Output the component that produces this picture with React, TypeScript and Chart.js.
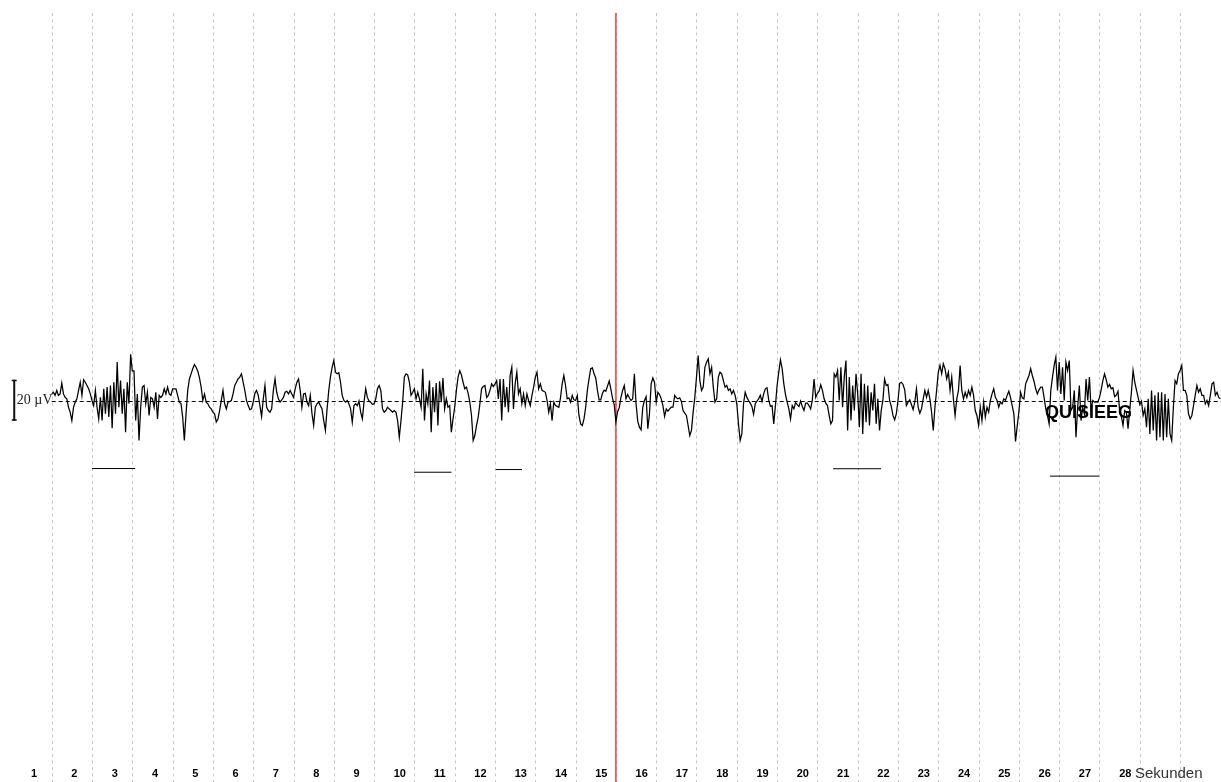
import React, { useEffect, useRef } from "react";
import { Chart, registerables } from "chart.js";

Chart.register(...registerables);

// EEG channel sampled at 24 Hz, starting at second 1 (values in µV)
const SAMPLE_RATE_HZ = 24;
const TRACE_START_S = 1;
const eegMicrovolts = [
  3.7, 4.5, 3, 5.4, 3, 3.7, 9, 3.7, 2, 1.3, -2.8, -5.2, -9.3, -2.8, -0.3, 1.3, 5.4, 9.4, 3, 10.6, 9.4, 7.8, 6.2, 3.7,
  0.5, -2, 5.4, -2.8, -8.5, 2, -9.3, 6.2, -6, 7, -7.6, 7.8, -13, 9.4, -6, 19.2, -2.8, 10.2, -6, 6.2, -15, 9.4, -1.1, 23,
  15, 15, -9.3, 3.7, -19, -2.8, 7, 7.8, -1.1, 4.5, -6.8, 2, 1.3, -2.8, 4.5, -8.5, 3, 2, 3, 6.2, 3.7, 7, 3.7, 3,
  6.2, 6.2, 6.2, 3, -0.3, -1, -7.6, -19, -6, 5.4, 11, 13.5, 16, 18, 16.7, 14.8, 11.5, 7, 0.5, 3.7, -0.3, -1.1, -2.8, -3.6,
  -5.2, -6, -10, -8.5, -4.4, 0.5, 5.4, -1.1, -3.6, -0.3, 0, 0.5, 3.7, 7.8, 9.4, 11, 11.9, 13.5, 9.4, 5.4, 0.5, -2, -4, -3.6,
  -0.3, 4, 5.4, 3, -2, -7.3, 1.3, 7.8, -2.8, -4.4, -5.2, -3.6, 5.4, 11, 4.5, 1.3, -0.3, 0.8, 2, 4.5, 5, 3.7, 5.4, 3.7,
  2, 6.2, 9.4, 11, 5.4, -2.8, 3.7, 4, -0.3, -2, 3, -6, -11.7, -2.8, -1.1, -0.3, -2, -3.6, -9.3, -14.1, -3.6, 5.4, 11.9, 16.7,
  20, 14.3, 13.5, 14, 9.4, 3, 0.5, -0.3, 0.5, -1.1, -3.6, -10.1, -2, -1.1, -2, 0.2, -5.2, -8.5, -0.3, 6.2, 2, 0.2, -0.3, -1.5,
  -1.1, 1.3, 6.2, 7.8, 5.4, -3.6, -5.2, -4.4, -2.8, -3.6, -4.4, -5.2, -4.4, -5.2, -9.3, -17.4, -9.3, -0.3, 11.9, 13.5, 13, 9.4, 3, 4.5,
  6.2, 1.3, 4.5, 1.3, -2.8, 16, -9.3, 3.7, -1.1, 10.2, -15, 7, -5.2, 9, -11.7, 9.9, -0.3, 11.5, -3.6, 1.3, -2.8, -2, -15, -8.5,
  -2.8, 5.4, 11.9, 15, 13, 9.4, 6.2, 7, 4, -0.3, -6.8, -19, -16.6, -11.7, -7.6, -1.1, 6.2, 7.3, 7.8, 2, 3, 5.4, 8.6, 7.3,
  8.6, 10.2, 1.3, 11, -9.3, 11, -2.8, 7, -5.2, 12.7, 16.7, -3.6, 8.6, 14.3, 3.7, 6.2, -1.1, 3.7, -2, 3.7, 0.5, -2, 3, 7,
  11.9, 14.3, 6.2, 8.6, 5.4, 5, 4.5, 0.5, -5.2, -1.1, -9.3, -0.3, -2, -2.4, -2.8, 1.8, 8.6, 12.7, 7.8, 1.3, 1.8, -0.3, 3, 0.8,
  0.5, 3, -6.8, -10.9, -11.7, -8.5, -2.8, 5.4, 11, 16, 16.4, 13.5, 11.5, 5.4, 0.8, 0.8, 4, 5.5, 5, 7.5, 10, 6, 1.5, -1.5,
  -10, -5, -3, 2, 5.4, 7.8, 1.3, 3.4, 1.8, 0.5, 1.3, 13.5, -1.1, -9.6, -12.5, -13.8, -2.8, 0.5, 2.4, -13.3, -6, 8.6, 11.5, 9.4,
  -0.3, 4.5, 3.4, 1.3, -2, -7.3, -3.6, -4.7, -3.6, -2.8, -2.8, 3, 1.8, 1.3, 1.8, 0, -4.4, -5.7, -6.8, -11.7, -16.6, -14.1, -5.2, 2,
  11.9, 22.4, 10.2, 5.4, 7, 16.7, 19.2, 20.8, 13.5, 16.7, 7, -0.3, 1.3, 11.9, 14.3, 13.5, 10.2, 7, 7.8, 5.4, 6.2, 3.7, 5.4, 3,
  -1.1, -10.9, -19, -15.8, -1.1, 4.5, 2, 0.5, -0.8, -2.4, -6.3, -1.1, 0.2, 1.3, 3, 0, 3.7, 6.2, 6.7, 0.8, -2.4, -2, -10.9, -2,
  7.8, 14.3, 20.3, 16, 8.6, 3.4, -0.3, -3.6, -8.5, -2, -3.6, -0.5, -1.5, -2.4, 0.2, -2.4, -4.4, -0.8, -0.8, -2, -3.6, 0.8, 11, 2,
  4, 5, 8.1, 5.4, 1.3, -0.8, -2, -6.8, -10.9, -9.3, 13.5, 11.9, 15.1, 0.5, 16.7, -2.8, 11.9, 20, -14.1, 11.9, -9.3, 7.8, -4.4, 13.5,
  3.7, -12.5, 13.5, -15.8, 8.6, -10.1, 7.8, -11.7, 4.5, -4.4, 8.6, -10.9, 1.3, -14.1, -4.4, 0.5, 11, 7.8, 8.3, 0.5, -2.4, -6.8, -8.9, -6,
  0.5, 8.9, 9.4, 8.3, 5.7, -2, -0.3, 0.8, -1.5, -4, -0.3, 6.2, -2.8, -5.7, -3.6, 1.3, 5.4, 2, 5.4, 1.3, -5.2, -14.1, -2.8, 5.4,
  14.3, 17.6, 13.5, 18.4, 16, 11, 14.3, 5.4, 11.9, 1.3, -6.8, 1.3, 5.4, 17.6, 5.4, 1.3, 4.5, 2, 5.4, 3, 7, 3, -4.4, -6.8,
  -11.7, -2.8, -9.3, -0.3, -7.6, -2.8, -5.2, 0.5, 3.7, 6.2, 2, 0.5, -2.8, -0.3, -1.1, 1.3, 0.5, 3, 5, 2, -2, -6, -19.5, -12,
  -5, 4.5, 1.8, 1.3, 8.6, 10.6, 12.7, 16, 12.7, 9.9, 6.2, 3.7, 5.7, 7, 7, 2, -3.6, -6.8, -10.9, 5.4, 11.9, 17.6, 21.6, 5.4,
  19.2, 3.7, 16.7, 0.5, 19.2, 15.1, 20, -4.4, -2.8, 5.4, -17.4, -2.8, 7.8, -9.3, -2.8, -6, 11, 0.5, 11.9, -4.4, 0.5, -0.3, -0.3, -0.3,
  2, 5.7, 10.2, 13.5, 10.6, 7, 8.3, 6.2, 6.7, 2.4, 3, 5, -4.4, -7.3, -11.7, -4.4, -5.2, -13.3, -4.4, 4.5, 15.1, 9.4, 5.7, 2,
  -1.5, 0.2, -6.8, -3.6, -12.5, 1.3, -15.8, 5.4, -14.1, 3, -19, 4.5, -17.4, 4.5, -19, 3.7, -17.4, 1.3, -15.8, -19, -2.8, 10.2, 8.6, 13.5,
  15.1, 17.6, 5.4, 5.4, 3, -6, -8.5, -6.8, -2, 3, 7.8, 4.5, 6.2, 3, 3, -1.1, 0.5, -2, 3, 8.6, 9.4, 3, 4.5, 2,
  1.3,
];

// Second boundaries (dashed grid) and the per-second labels underneath
const gridSeconds = [1, 2, 3, 4, 5, 6, 7, 8, 9, 10, 11, 12, 13, 14, 15, 16, 17, 18, 19, 20, 21, 22, 23, 24, 25, 26, 27, 28, 29];
const secondLabels = ["1", "2", "3", "4", "5", "6", "7", "8", "9", "10", "11", "12", "13", "14", "15", "16", "17", "18", "19", "20", "21", "22", "23", "24", "25", "26", "27", "28"];
const unitLabel = "Sekunden";

// Cursor position (s)
const cursorSecond = 15;

// Marked events: start / end (s) and the level (µV) at which the bar is drawn
const eventStarts = [2.0, 9.99, 12.02, 20.39, 25.77];
const eventEnds = [3.07, 10.92, 12.67, 21.58, 26.99];
const eventLevels = [-32.7, -34.5, -33.2, -32.8, -36.4];

// Amplitude calibration bar
const scaleBarMicrovolts = 20;
const scaleBarLabel = "20 µV";
const channelName = "QUISIEEG";

// Visible window
const X_MIN = -0.283;
const X_MAX = 30.015;
const PX_PER_UV = 2.05;
const Y_MAX = 401.5 / PX_PER_UV;
const Y_MIN = -(782 - 401.5) / PX_PER_UV;

const eegDecor = {
  id: "eegDecor",
  beforeDatasetsDraw(chart: any) {
    const { ctx, chartArea } = chart;
    const x = chart.scales.x;
    ctx.save();
    // dashed second grid
    ctx.strokeStyle = "#c6c6c6";
    ctx.lineWidth = 1;
    ctx.setLineDash([3, 3.5]);
    for (const s of gridSeconds) {
      const px = Math.round(x.getPixelForValue(s)) + 0.5;
      ctx.beginPath();
      ctx.moveTo(px, chartArea.top + 13);
      ctx.lineTo(px, chartArea.bottom);
      ctx.stroke();
    }
    // red cursor line
    ctx.setLineDash([]);
    ctx.strokeStyle = "rgb(255,70,70)";
    ctx.lineWidth = 1.6;
    const cx = x.getPixelForValue(cursorSecond);
    ctx.beginPath();
    ctx.moveTo(cx, chartArea.top + 13);
    ctx.lineTo(cx, chartArea.bottom);
    ctx.stroke();
    ctx.restore();
  },
  afterDatasetsDraw(chart: any) {
    const { ctx, chartArea } = chart;
    const x = chart.scales.x;
    const y = chart.scales.y;
    ctx.save();

    // second labels along the bottom
    ctx.fillStyle = "#000";
    ctx.font = "bold 11px 'Liberation Sans', Arial, sans-serif";
    ctx.textAlign = "left";
    ctx.textBaseline = "alphabetic";
    secondLabels.forEach((lab, k) => {
      const px = x.getPixelForValue(k + 0.5) - 0.5;
      ctx.fillText(lab, px, chartArea.bottom - 5);
    });
    ctx.fillStyle = "#333";
    ctx.font = "15px 'Liberation Sans', Arial, sans-serif";
    ctx.fillText(unitLabel, x.getPixelForValue(27.88), chartArea.bottom - 4);

    // calibration bar
    const bx = x.getPixelForValue(0.07);
    const top = y.getPixelForValue(scaleBarMicrovolts / 2 + 0.6);
    const bot = y.getPixelForValue(-scaleBarMicrovolts / 2 + 0.6);
    ctx.strokeStyle = "#111";
    ctx.lineWidth = 2;
    ctx.beginPath();
    ctx.moveTo(bx, top);
    ctx.lineTo(bx, bot);
    ctx.stroke();
    ctx.lineWidth = 1.5;
    ctx.beginPath();
    ctx.moveTo(bx - 2.5, top + 0.75);
    ctx.lineTo(bx + 2.5, top + 0.75);
    ctx.moveTo(bx - 2.5, bot - 0.75);
    ctx.lineTo(bx + 2.5, bot - 0.75);
    ctx.stroke();

    ctx.fillStyle = "#222";
    ctx.font = "14px 'Liberation Serif', 'Times New Roman', serif";
    ctx.fillText(scaleBarLabel, x.getPixelForValue(0.135), y.getPixelForValue(0) + 2);

    // channel name
    ctx.fillStyle = "#000";
    ctx.font = "bold 18px 'Liberation Sans', Arial, sans-serif";
    ctx.fillText(channelName, x.getPixelForValue(25.65), y.getPixelForValue(0) + 16);
    ctx.restore();
  },
};

export default function App() {
  const ref = useRef<HTMLCanvasElement>(null);

  useEffect(() => {
    const canvas = ref.current;
    if (!canvas) return;
    const trace = eegMicrovolts.map((v, i) => ({ x: TRACE_START_S + i / SAMPLE_RATE_HZ, y: v }));
    const lastSecond = TRACE_START_S + (eegMicrovolts.length - 1) / SAMPLE_RATE_HZ;

    const datasets: any[] = [
      {
        label: "Nulllinie",
        data: [
          { x: TRACE_START_S, y: 0 },
          { x: lastSecond + 0.05, y: 0 },
        ],
        borderColor: "#000",
        borderWidth: 1,
        borderDash: [4, 3],
      },
      {
        label: channelName,
        data: trace,
        borderColor: "#000",
        borderWidth: 1.25,
      },
      ...eventStarts.map((s, k) => ({
        label: `Ereignis ${k + 1}`,
        data: [
          { x: s, y: eventLevels[k] },
          { x: eventEnds[k], y: eventLevels[k] },
        ],
        borderColor: "#000",
        borderWidth: 1,
      })),
    ];

    const chart = new Chart(canvas, {
      type: "line",
      data: { datasets },
      options: {
        responsive: false,
        animation: false,
        devicePixelRatio: 1,
        events: [],
        layout: { padding: 0 },
        plugins: { legend: { display: false }, tooltip: { enabled: false } },
        elements: { point: { radius: 0 }, line: { tension: 0, fill: false } },
        scales: {
          x: { type: "linear", display: false, min: X_MIN, max: X_MAX },
          y: { type: "linear", display: false, min: Y_MIN, max: Y_MAX },
        },
      },
      plugins: [eegDecor],
    });
    return () => chart.destroy();
  }, []);

  return (
    <div style={{ position: "fixed", left: 0, top: 0, width: 1221, height: 782, background: "#fff" }}>
      <canvas ref={ref} width={1221} height={782} style={{ display: "block" }} />
    </div>
  );
}
